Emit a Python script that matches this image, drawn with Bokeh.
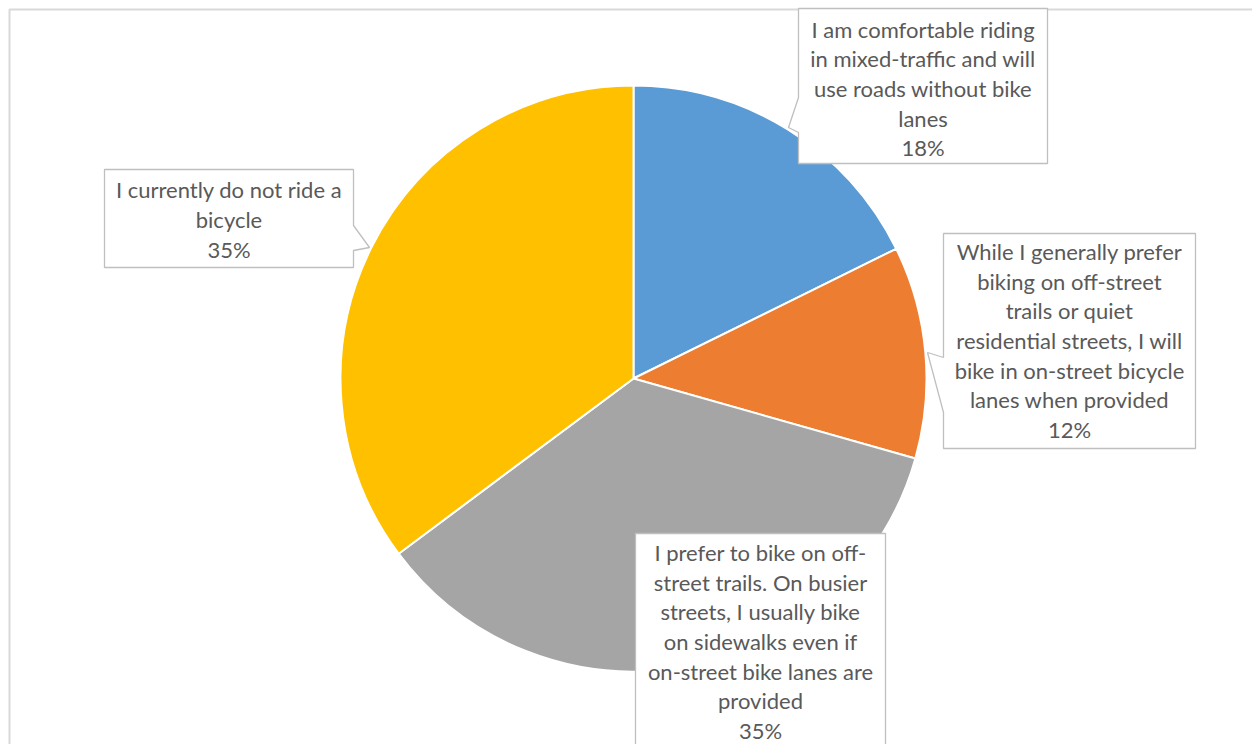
import numpy as np
from bokeh.plotting import figure
from bokeh.models import ColumnDataSource, Range1d
from bokeh.core.properties import value
from bokeh.embed import file_html
from bokeh.resources import INLINE

# ---- data ----
categories = [
    "I am comfortable riding\nin mixed-traffic and will\nuse roads without bike\nlanes",
    "While I generally prefer\nbiking on off-street\ntrails or quiet\nresidential streets, I will\nbike in on-street bicycle\nlanes when provided",
    "I prefer to bike on off-\nstreet trails. On busier\nstreets, I usually bike\non sidewalks even if\non-street bike lanes are\nprovided",
    "I currently do not ride a\nbicycle",
]
shares = [17.7, 11.7, 35.4, 35.2]
pct_labels = ["18%", "12%", "35%", "35%"]
colors = ["#5B9BD5", "#ED7D31", "#A5A5A5", "#FFC000"]

W, H = 1252, 744
def Y(y):  # pixel row -> data y
    return H - y

p = figure(width=W, height=H, output_backend="svg", toolbar_location=None,
           x_range=Range1d(0, W), y_range=Range1d(0, H), min_border=0)
p.axis.visible = False
p.grid.visible = False
p.outline_line_color = None
p.background_fill_color = "white"

# chart border (top & left visible)
p.line([9, 9, W], [Y(H), Y(9), Y(9)], line_color="#d9d9d9", line_width=2)

# pie
vals = np.array(shares, dtype=float)
frac = vals / vals.sum() * 2 * np.pi
ends = np.cumsum(frac)
starts = ends - frac
src = ColumnDataSource(dict(start=np.pi / 2 - starts, end=np.pi / 2 - ends, color=colors))
cx, cy, r = 633, Y(378), 293
p.wedge(x=cx, y=cy, radius=r, start_angle="start", end_angle="end", direction="clock",
        fill_color="color", line_color="white", line_width=2, source=src)

# label callout boxes (pixel layout)
boxes = [
    [(798, 8), (1047, 8), (1047, 163), (798, 163), (798, 132), (788, 127), (798, 97)],
    [(943, 233), (1195, 233), (1195, 448), (943, 448), (943, 412), (927, 352), (943, 357)],
    [(635, 533), (885, 533), (885, 780), (635, 780)],
    [(104, 169), (353, 169), (353, 225), (369, 247), (353, 250), (353, 267), (104, 267)],
]
centers = [(922.5, 88), (1069, 340), (760, 641), (228.5, 219)]
p.patches([[pt[0] for pt in b] for b in boxes], [[Y(pt[1]) for pt in b] for b in boxes],
          fill_color="white", line_color="#bfbfbf", line_width=1.3)

texts = [c + "\n" + pc for c, pc in zip(categories, pct_labels)]
p.text(x=[c[0] for c in centers], y=[Y(c[1]) for c in centers], text=texts,
       text_align="center", text_baseline="middle", text_color="#595959",
       text_font=value("Lato"), text_font_size="22px", text_line_height=1.1)

open("out.html", "w").write(file_html(p, INLINE))
